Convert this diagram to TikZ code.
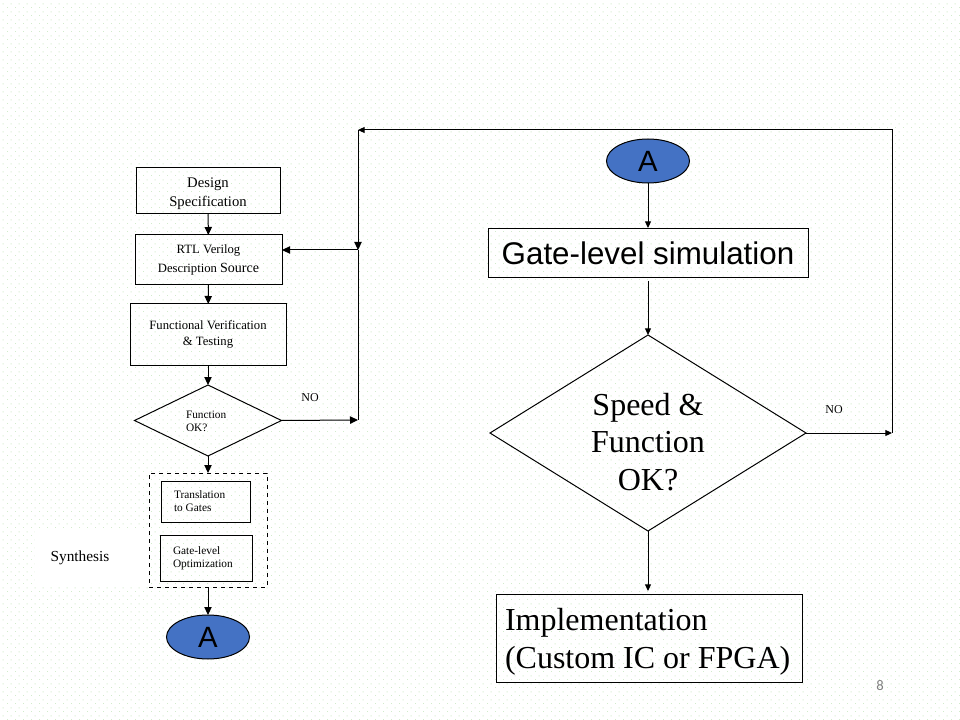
\documentclass[tikz,border=0pt]{standalone}
\usepackage{fontspec}
\setmainfont{Liberation Serif}
\newfontfamily\arialf{Liberation Sans}
\newfontfamily\calibrif{Carlito}
\usetikzlibrary{shapes.geometric,arrows.meta,patterns}
\definecolor{dotgreen}{HTML}{D2EBCB}
\definecolor{ablue}{HTML}{4472C4}
\pgfdeclarepatternformonly{greendots}{\pgfpointorigin}{\pgfpoint{6pt}{6pt}}{\pgfpoint{6pt}{6pt}}{%
  \pgfpathrectangle{\pgfpoint{0pt}{0pt}}{\pgfpoint{0.8pt}{0.8pt}}%
  \pgfpathrectangle{\pgfpoint{3pt}{3pt}}{\pgfpoint{0.8pt}{0.8pt}}%
  \pgfusepath{fill}}
\tikzset{
  box/.style={draw, line width=0.75pt, inner sep=0pt, outer sep=0pt, align=center},
  dia/.style={draw, diamond, line width=0.75pt, inner sep=0pt, outer sep=0pt, shape aspect=1},
  conn/.style={ellipse, draw, fill=ablue, line width=0.75pt, inner sep=0pt, outer sep=0pt, minimum width=62.25pt, minimum height=33pt, font=\arialf\fontsize{22}{24}\selectfont},
  arr/.style={line width=0.75pt, -{Triangle[length=5pt,width=4.5pt]}},
  arrL/.style={line width=0.75pt, -{Triangle[length=6pt,width=5.5pt]}},
  ln/.style={line width=0.75pt},
  lbl/.style={inner sep=0pt, outer sep=0pt}
}
\begin{document}
\begin{tikzpicture}[x=0.75pt, y=-0.75pt]
\path[use as bounding box, fill=white] (0,0) rectangle (960,720);
\fill[pattern=greendots, pattern color=dotgreen] (0,0) rectangle (960,720);

% left column
\node[box, minimum width=108pt, minimum height=34.5pt] (ds) at (208,191) {};
\node[lbl, align=center, font=\fontsize{11}{14.5}\selectfont] (dst) at (208,194) {Design\\Specification};
\node[box, minimum width=110.25pt, minimum height=37.5pt, font=\fontsize{9.5}{14}\selectfont] (rtl) at (208.5,260) {RTL Verilog\\Description {\fontsize{10.5}{14}\selectfont Source}};
\node[box, minimum width=117pt, minimum height=45.75pt, font=\fontsize{9.5}{12.5}\selectfont] (fv) at (208,334.5) {Functional Verification\\\& Testing};
\node[dia, minimum width=110.25pt, minimum height=53.25pt] (d1) at (208,420.5) {};
\node[lbl, anchor=west, align=left, font=\fontsize{8.5}{9.8}\selectfont] (d1t) at (186,421) {Function\\OK?};
\node[lbl, font=\fontsize{9}{10}\selectfont] (no1) at (310,398) {NO};

\fill[white] (35,530) rectangle (148,585);
\node[lbl, font=\fontsize{11.5}{13}\selectfont] (syn) at (80,558) {Synthesis};
\node[draw, dashed, line width=0.75pt, inner sep=0pt, outer sep=0pt, minimum width=88.5pt, minimum height=85.5pt] (sb) at (208,530) {};
\node[box, minimum width=66.75pt, minimum height=30.75pt] (tg) at (205.5,501.5) {};
\node[lbl, anchor=west, align=left, font=\fontsize{8.5}{9.8}\selectfont] (tgt) at (174,501.5) {Translation\\to Gates};
\node[box, minimum width=69pt, minimum height=34.5pt] (go) at (206,558) {};
\node[lbl, anchor=west, align=left, font=\fontsize{8.5}{9.8}\selectfont] (got) at (173,558) {Gate-level\\Optimization};
\node[conn] (a1) at (208,637) {A};

% right column
\node[conn] (a2) at (648,161) {A};
\node[box, minimum width=240pt, minimum height=36.75pt, font=\arialf\fontsize{23.5}{26}\selectfont] (gs) at (648,253.5) {Gate-level simulation};
\node[dia, minimum width=237pt, minimum height=147pt] (d2) at (648,433) {};
\node[lbl, align=center, font=\fontsize{24}{28}\selectfont] (d2t) at (648,442) {Speed \&\\Function\\OK?};
\node[lbl, font=\fontsize{9}{10}\selectfont] (no2) at (834,410) {NO};
\node[box, minimum width=229.5pt, minimum height=66pt] (impl) at (649,638) {};
\node[lbl, anchor=west, align=left, font=\fontsize{24}{28.5}\selectfont] (implt) at (505,642) {Implementation\\(Custom IC or FPGA)};
\node[lbl, text=gray, font=\calibrif\fontsize{11}{13}\selectfont] (pg) at (880,686) {8};

% loop coordinates
\coordinate (r1) at (892,433);
\coordinate (r2) at (892,130);
\coordinate (l1) at (358,130);
\coordinate (j) at (358,250);
\coordinate (c1) at (358,420);
\coordinate (gsb) at (648,281);
\coordinate (a2b) at (648,228);
\coordinate (imt) at (648,591);

% connectors
\draw[arrL] (ds) -- (rtl);
\draw[arrL] (rtl) -- (fv);
\draw[arrL] (fv) -- (d1);
\draw[arrL] (d1) -- (sb);
\draw[arrL] (sb) -- (a1);
\draw[arr] (a2) -- (a2b);
\draw[arr] (gsb) -- (d2.north);
\draw[arr] (d2.south) -- (imt);
\draw[arr] (d2.east) -- (r1);
\draw[arr] (r1) -- (r2) -- (l1);
\draw[arrL] (l1) -- (j);
\draw[ln] (j) -- (c1);
\draw[arrL] (d1.east) -- (c1);
\draw[arrL] (j) -- (rtl.east |- j);
\end{tikzpicture}
\end{document}
